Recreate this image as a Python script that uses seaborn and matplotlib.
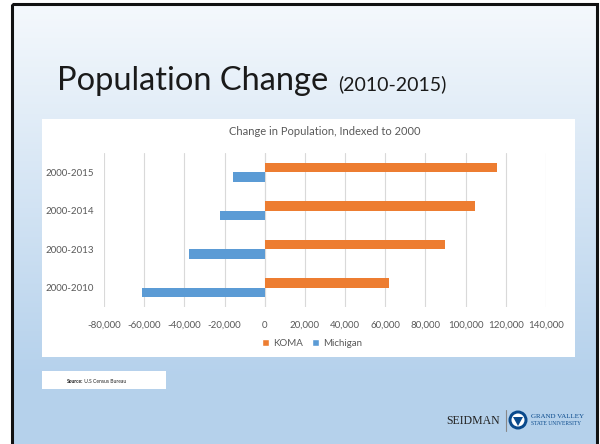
import numpy as np
import pandas as pd
import matplotlib
matplotlib.use("Agg")
import matplotlib.pyplot as plt
from matplotlib.patches import Rectangle, Circle, Polygon
import seaborn as sns

# data
periods = ["2000-2015", "2000-2014", "2000-2013", "2000-2010"]
koma = [115500, 104500, 89600, 61800]
michigan = [-15900, -22100, -37800, -61000]
series_names = ["KOMA", "Michigan"]
xticks = list(range(-80000, 140001, 20000))

ORANGE = "#ED7D31"
BLUE = "#5B9BD5"
TXT = "#595959"

df = pd.DataFrame({
    "period": periods * 2,
    "change": koma + michigan,
    "series": [series_names[0]] * len(periods) + [series_names[1]] * len(periods),
})

sns.set_theme(style="white")
plt.rcParams["font.family"] = ["Lato", "DejaVu Sans"]

W, H = 600, 444
fig = plt.figure(figsize=(6, 4.44), dpi=100)
fig.patch.set_facecolor("white")

# slide background with a vertical gradient
bg = fig.add_axes([0, 0, 1, 1])
bg.set_xlim(0, W)
bg.set_ylim(H, 0)
bg.axis("off")
grad = np.linspace(0, 1, 200)
top = np.array([0.96, 0.975, 0.99])
bot = np.array([0.71, 0.82, 0.925])
cols = top + (bot - top) * np.clip(grad / 0.85, 0, 1)[:, None]
bg.imshow(cols[:, None, :], extent=[12, 597, H, 4], aspect="auto", zorder=0)
bg.add_patch(Rectangle((11.5, 4), 585.5, 445, fill=False, ec="#111111", lw=2.2, zorder=2))

# white chart box and source box
bg.add_patch(Rectangle((42, 119), 533, 238, fc="white", ec="none", zorder=1))
bg.add_patch(Rectangle((42, 371), 124, 18, fc="white", ec="none", zorder=1))

# slide title
t1 = bg.text(57, 90, "Population Change", fontsize=23.5, color="#1a1a1a",
             va="baseline", ha="left", zorder=3)
fig.canvas.draw()
bb = t1.get_window_extent().transformed(bg.transData.inverted())
bg.text(max(bb.x0, bb.x1) + 10, 90, "(2010-2015)", fontsize=14, color="#1a1a1a",
        va="baseline", ha="left", zorder=3)

# source note
bg.text(67, 381, "Source:", fontsize=3.6, fontweight="bold", color="#222222",
        va="center", ha="left", zorder=3)
bg.text(83, 381, " U.S Census Bureau", fontsize=3.6, color="#222222",
        va="center", ha="left", zorder=3)

# logo
LOGO = "#0a4a8c"
bg.text(500, 421, "SEIDMAN", fontsize=8.5, family="Liberation Serif",
        color="#222222", ha="right", va="center", zorder=3)
bg.plot([506, 506], [410, 431], color="#888888", lw=0.8, zorder=3)
bg.add_patch(Circle((518, 420), 9.5, fc=LOGO, ec="none", zorder=3))
bg.add_patch(Circle((518, 420), 6.5, fc="white", ec="none", zorder=4))
bg.add_patch(Polygon([[513, 417], [523, 417], [518, 426]], closed=True,
                     fc=LOGO, ec="none", zorder=5))
bg.text(531, 416, "GRAND VALLEY", fontsize=5, family="Liberation Serif",
        color=LOGO, ha="left", va="center", zorder=3)
bg.text(531, 423, "STATE UNIVERSITY", fontsize=4, family="Liberation Serif",
        color=LOGO, ha="left", va="center", zorder=3)

# chart
ax = fig.add_axes([104 / W, 1 - 307 / H, (546 - 104) / W, (307 - 153) / H])
ax.set_facecolor("none")
sns.barplot(data=df, y="period", x="change", hue="series", orient="h",
            order=periods, hue_order=series_names, palette=[ORANGE, BLUE],
            width=0.5, saturation=1, linewidth=0, ax=ax, legend=False)
ax.set_xlim(-80000, 140000)
ax.set_ylim(3.5, -0.5)
ax.set_xticks(xticks)
ax.set_xticklabels([f"{v:,}" for v in xticks])
ax.grid(axis="x", color="#d9d9d9", lw=0.8)
ax.set_axisbelow(True)
ax.axvline(0, color="#d9d9d9", lw=0.8, zorder=0)
for s in ax.spines.values():
    s.set_visible(False)
ax.tick_params(axis="both", length=0, labelsize=7, labelcolor=TXT)
ax.tick_params(axis="x", pad=10)
ax.tick_params(axis="y", pad=7)
ax.set_xlabel("")
ax.set_ylabel("")
ax.set_title("Change in Population, Indexed to 2000", fontsize=8, color=TXT, pad=13)

handles = [Rectangle((0, 0), 1, 1, fc=c) for c in (ORANGE, BLUE)]
fig.legend(handles, series_names, loc="center", bbox_to_anchor=(312 / W, 1 - 343 / H),
           ncol=2, frameon=False, fontsize=7, labelcolor=TXT,
           handlelength=0.7, handleheight=0.7, handletextpad=0.4, columnspacing=1.0)

fig.savefig("out.png", dpi=100)
